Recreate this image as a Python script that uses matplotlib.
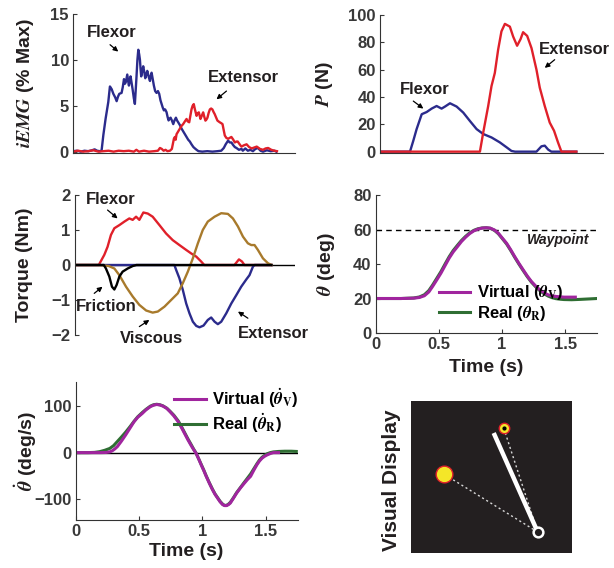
import numpy as np
import matplotlib
matplotlib.use('Agg')
import matplotlib.pyplot as plt

plt.rcParams['font.family'] = ['Liberation Sans', 'DejaVu Sans']
plt.rcParams['font.weight'] = 'bold'
plt.rcParams['axes.labelweight'] = 'bold'
plt.rcParams['mathtext.fontset'] = 'stix'

# ---- colours ----
C_FLEX = '#2b2b8c'
C_EXT = '#e0202a'
C_VISC = '#a87a2c'
C_VIRT = '#a0259e'
C_REAL = '#2f6e33'
C_TXT = '#231f20'
C_TICK = '#383838'

# ---- iEMG (% max) ----
t_emg_flex = [0.00, 0.03, 0.06, 0.09, 0.12, 0.15, 0.17, 0.19, 0.21, 0.225, 0.239, 0.257, 0.278, 0.291,
              0.305, 0.318, 0.333, 0.344, 0.355, 0.365, 0.383, 0.392, 0.402, 0.41, 0.417, 0.428, 0.436,
              0.441, 0.448, 0.454, 0.462, 0.470, 0.480, 0.488, 0.495, 0.501, 0.508, 0.515, 0.522, 0.528,
              0.533, 0.538, 0.546, 0.554, 0.562, 0.570, 0.578, 0.586, 0.596, 0.607, 0.614, 0.620, 0.629,
              0.638, 0.648, 0.659, 0.670, 0.680, 0.690, 0.699, 0.708, 0.717, 0.727, 0.738, 0.746, 0.754,
              0.762, 0.770, 0.780, 0.791, 0.801, 0.812, 0.821, 0.830, 0.843, 0.857, 0.870, 0.883, 0.896,
              0.909, 0.922, 0.935, 0.95, 0.962, 0.975, 0.99, 1.02, 1.06, 1.10, 1.14, 1.17, 1.19, 1.205,
              1.224, 1.237, 1.25, 1.265, 1.277, 1.29, 1.31, 1.33, 1.34, 1.36, 1.38, 1.40, 1.42, 1.44,
              1.46, 1.48, 1.50, 1.53, 1.56, 1.59, 1.605]
emg_flex = [0.05, 0.1, 0.0, 0.1, 0.05, 0.15, 0.25, 0.1, 0.05, 0.1, 1.8, 3.6, 5.4, 7.1,
            6.8, 6.3, 5.9, 5.5, 6.0, 6.3, 6.4, 7.0, 7.9, 7.4, 7.6, 8.4, 7.6,
            7.2, 7.8, 8.2, 7.5, 6.8, 5.8, 5.2, 6.8, 8.2, 10.0, 11.1, 10.6, 10.0,
            9.0, 8.2, 8.8, 9.3, 8.7, 8.0, 8.4, 8.8, 8.2, 7.7, 8.3, 8.6, 7.9,
            7.2, 6.6, 6.4, 6.6, 6.3, 5.6, 5.2, 4.8, 4.5, 4.6, 4.3, 3.8, 3.4,
            3.6, 3.7, 3.4, 3.0, 3.4, 3.7, 3.4, 3.2, 2.9, 2.5, 2.2, 1.9, 1.6,
            1.3, 1.1, 0.8, 0.5, 0.35, 0.2, 0.05, 0.0, 0.05, 0.0, 0.05, 0.1, 0.4, 0.8,
            1.2, 1.0, 1.0, 0.7, 0.5, 0.4, 0.2, 0.3, 0.1, 0.35, 0.1, 0.2, 0.05, 0.3,
            0.4, 0.1, 0.0, 0.15, 0.05, 0.1, 0.0]

t_emg_ext = [0.00, 0.04, 0.08, 0.12, 0.16, 0.20, 0.24, 0.28, 0.32, 0.36, 0.40, 0.44, 0.48, 0.50,
             0.52, 0.56, 0.60, 0.64, 0.67, 0.686, 0.70, 0.715, 0.73, 0.745, 0.765, 0.78, 0.796, 0.804,
             0.81, 0.817, 0.83, 0.843, 0.856, 0.869, 0.883, 0.896, 0.905, 0.917, 0.926, 0.935, 0.944,
             0.953, 0.962, 0.975, 0.985, 0.993, 1.006, 1.016, 1.027, 1.036, 1.045, 1.053, 1.061, 1.07,
             1.08, 1.09, 1.10, 1.11, 1.118, 1.13, 1.14, 1.158, 1.17, 1.18, 1.19, 1.198, 1.21, 1.224,
             1.237, 1.25, 1.265, 1.277, 1.29, 1.30, 1.315, 1.329, 1.35, 1.37, 1.39, 1.41, 1.43, 1.45,
             1.475, 1.50, 1.52, 1.54, 1.565, 1.59, 1.61]
emg_ext = [0.0, 0.1, 0.0, 0.05, 0.15, 0.0, 0.05, 0.1, 0.0, 0.1, 0.05, 0.1, 0.0, 0.2,
           0.0, 0.1, 0.0, 0.05, 0.1, 0.4, 0.3, 0.1, 0.2, 0.05, 0.1, 0.3, 1.4, 1.6,
           1.3, 1.9, 2.2, 2.5, 2.8, 3.0, 3.3, 3.56, 3.3, 3.2, 3.9, 4.6, 5.0,
           5.18, 4.6, 3.9, 4.2, 4.28, 3.56, 3.9, 4.28, 3.8, 3.38, 3.5, 3.7, 4.2,
           4.6, 4.7, 4.6, 4.3, 4.1, 3.7, 3.38, 3.2, 3.1, 3.0, 2.3, 1.76, 1.5, 1.4,
           1.5, 1.6, 1.3, 1.0, 1.1, 1.1, 0.8, 0.55, 0.7, 0.8, 0.5, 0.35, 0.45, 0.55,
           0.3, 0.2, 0.35, 0.4, 0.2, 0.1, 0.05]

# ---- muscle force P (N) ----
t_p_flex = [0.0, 0.235, 0.261, 0.287, 0.327, 0.366, 0.405, 0.444, 0.483, 0.51, 0.549, 0.601, 0.653,
            0.705, 0.758, 0.810, 0.875, 0.94, 0.993, 1.032, 1.06, 1.228, 1.267, 1.293, 1.32, 1.345, 1.541]
p_flex = [0, 0, 8, 16.5, 27.4, 29, 31.5, 33.4, 31.5, 33, 35.4, 33, 28.6,
          22.5, 16.5, 12.9, 10.4, 6.8, 3.2, 0.5, 0, 0, 3.9, 4.4, 1.5, 0, 0]
t_p_ext = [0.0, 0.784, 0.810, 0.849, 0.875, 0.901, 0.927, 0.953, 0.98, 1.019, 1.045, 1.076, 1.103,
           1.123, 1.155, 1.189, 1.228, 1.254, 1.293, 1.332, 1.366, 1.397, 1.424, 1.541]
p_ext = [0, 0, 14, 33.4, 48, 57.6, 74.6, 88, 93.5, 91.5, 84.2, 77.5, 82.3,
         87.4, 84.7, 75.8, 60, 46.8, 33.4, 21.3, 15.3, 6.8, 0, 0]

# ---- torques (Nm) ----
t_tq_flex = [0.0, 0.19, 0.234, 0.26, 0.287, 0.314, 0.354, 0.394, 0.433, 0.46, 0.487, 0.513, 0.545,
             0.58, 0.619, 0.673, 0.726, 0.779, 0.832, 0.886, 0.926, 0.966, 1.005, 1.03, 1.27, 1.306,
             1.33, 1.35, 1.565]
tq_flex = [0, 0, 0.29, 0.52, 0.86, 1.05, 1.14, 1.24, 1.33, 1.29, 1.38, 1.29, 1.5,
           1.47, 1.38, 1.14, 0.9, 0.71, 0.57, 0.43, 0.33, 0.24, 0.1, 0, 0, 0.16,
           0.1, 0, 0]
t_tq_visc = [0.0, 0.19, 0.27, 0.314, 0.354, 0.407, 0.46, 0.513, 0.567, 0.619, 0.66, 0.713, 0.766,
             0.819, 0.859, 0.899, 0.939, 0.979, 1.018, 1.058, 1.112, 1.165, 1.218, 1.258, 1.298,
             1.338, 1.377, 1.404, 1.43, 1.457, 1.497, 1.537, 1.565]
tq_visc = [0, 0, -0.03, -0.1, -0.29, -0.62, -0.9, -1.14, -1.3, -1.36, -1.33, -1.19, -1.0,
           -0.81, -0.52, -0.19, 0.19, 0.62, 1.0, 1.24, 1.38, 1.48, 1.46, 1.33, 1.1,
           0.81, 0.62, 0.57, 0.57, 0.43, 0.19, 0.05, 0]
t_tq_fric = [0.0, 0.23, 0.247, 0.274, 0.295, 0.314, 0.332, 0.354, 0.38, 0.42, 0.46, 0.49, 1.565]
tq_fric = [0, 0, -0.1, -0.33, -0.62, -0.7, -0.57, -0.33, -0.19, -0.1, -0.03, 0, 0]
t_tq_ext = [0.0, 0.792, 0.806, 0.832, 0.859, 0.886, 0.912, 0.939, 0.966, 0.992, 1.024, 1.058, 1.085,
            1.112, 1.138, 1.165, 1.205, 1.245, 1.285, 1.324, 1.365, 1.39, 1.417, 1.43, 1.565]
tq_ext = [0, 0, -0.14, -0.38, -0.71, -1.1, -1.38, -1.62, -1.74, -1.78, -1.73, -1.57, -1.5,
          -1.62, -1.69, -1.62, -1.38, -1.1, -0.86, -0.62, -0.41, -0.29, -0.05, 0, 0]

# ---- joint angle (deg) ----
t_th_v = [0, 0.1, 0.2, 0.3, 0.346, 0.385, 0.42, 0.45, 0.483, 0.516, 0.548, 0.581, 0.613, 0.646, 0.678,
          0.711, 0.743, 0.776, 0.808, 0.841, 0.875, 0.906, 0.94, 0.971, 1.0, 1.036, 1.068, 1.10, 1.133,
          1.167, 1.2, 1.232, 1.265, 1.297, 1.33, 1.362, 1.395, 1.427, 1.46, 1.49, 1.58]
th_v = [20.0, 20.0, 20.0, 20.2, 20.6, 21.6, 23.8, 27.0, 30.8, 34.7, 39.0, 43.4, 47.0, 50.0, 53.0,
        55.5, 57.6, 59.2, 60.2, 60.8, 61.0, 60.8, 59.7, 57.8, 55.2, 52.0, 48.3, 44.3, 40.4,
        36.6, 33.0, 29.9, 27.3, 25.1, 23.5, 22.2, 21.6, 21.2, 21.0, 20.8, 20.8]
t_th_r = [0, 0.1, 0.2, 0.3, 0.346, 0.385, 0.42, 0.45, 0.483, 0.516, 0.548, 0.581, 0.613, 0.646, 0.678,
          0.711, 0.743, 0.776, 0.808, 0.841, 0.875, 0.906, 0.94, 0.971, 1.0, 1.036, 1.068, 1.10, 1.133,
          1.167, 1.2, 1.232, 1.265, 1.297, 1.33, 1.362, 1.395, 1.427, 1.46, 1.49, 1.55, 1.62, 1.70, 1.75]
th_r = [20.0, 20.0, 20.0, 20.3, 20.9, 22.2, 24.6, 27.8, 31.7, 35.6, 39.9, 44.2, 47.8, 50.8, 53.6,
        56.0, 58.0, 59.5, 60.4, 60.9, 61.0, 60.7, 59.5, 57.5, 54.9, 51.6, 47.9, 43.9, 40.0,
        36.2, 32.6, 29.5, 26.9, 24.7, 22.9, 21.5, 20.5, 19.9, 19.6, 19.4, 19.3, 19.5, 19.8, 20.0]
waypoint = 60

# ---- joint velocity (deg/s) ----
t_vel_v = [0, 0.1, 0.2, 0.24, 0.27, 0.29, 0.31, 0.33, 0.36, 0.395, 0.43, 0.46, 0.49, 0.525, 0.555, 0.59,
           0.615, 0.64, 0.665, 0.69, 0.72, 0.745, 0.775, 0.81, 0.835, 0.86, 0.885, 0.91, 0.93, 0.95,
           0.97, 0.99, 1.01, 1.03, 1.055, 1.08, 1.10, 1.12, 1.14, 1.16, 1.175, 1.19, 1.205, 1.22,
           1.245, 1.27, 1.30, 1.33, 1.355, 1.38, 1.405, 1.43, 1.45, 1.47, 1.49, 1.51, 1.535, 1.56, 1.6]
vel_v = [0, 0, 0, 0.3, 1.5, 4, 8, 13, 24, 38, 53, 66, 76, 84, 92, 99,
         102, 103.6, 102.5, 100, 95, 88, 79, 66, 54, 41, 28, 16, 7, -1.4,
         -13, -26, -38, -51, -66, -80, -90, -98, -106, -112, -114, -114, -112, -108.6,
         -98, -87, -76, -66, -58, -51, -38, -26, -18, -12, -8, -5, -2, 0, 0]
t_vel_r = [0, 0.1, 0.15, 0.19, 0.23, 0.27, 0.30, 0.33, 0.36, 0.395, 0.43, 0.46, 0.49, 0.525, 0.555, 0.59,
           0.615, 0.64, 0.665, 0.69, 0.72, 0.745, 0.775, 0.81, 0.835, 0.86, 0.885, 0.91, 0.93, 0.95,
           0.97, 0.99, 1.01, 1.03, 1.055, 1.08, 1.10, 1.12, 1.14, 1.16, 1.175, 1.19, 1.205, 1.22,
           1.245, 1.27, 1.30, 1.33, 1.355, 1.38, 1.405, 1.43, 1.45, 1.47, 1.49, 1.51, 1.535, 1.56, 1.6,
           1.65, 1.70, 1.74]
vel_r = [0, 0, 0.5, 2, 5, 9, 15, 24, 33, 44, 56, 67, 77, 86, 93, 100,
         103, 104, 103, 100.5, 95.5, 89, 80.5, 68, 56, 43, 30, 18, 8, -1,
         -13, -25, -37, -50, -65, -79, -89, -97, -105, -111, -113.5, -113.5, -111, -107,
         -97, -86, -75, -64, -55, -46, -35, -24, -16, -10, -6, -2.5, 0, 1.5, 2.5,
         3, 3, 2.5]

# ---- visual display scene (screen units) ----
pivot_xy = (127, 21)
rod_tip_xy = (83, 120)
target_xy = (33, 79)
cursor_xy = (93, 125)

fig = plt.figure(figsize=(6.14, 5.68), dpi=100)

TICK_FS = 12
LABEL_FS = 14
NOTE_FS = 12


def style(ax, yticks, ylabels=None, xticks=None, xlabels=None, bottom=True):
    for s in ['top', 'right']:
        ax.spines[s].set_visible(False)
    ax.spines['bottom'].set_visible(bottom)
    ax.spines['left'].set_color('#333333')
    ax.spines['bottom'].set_color('#333333')
    ax.tick_params(direction='in', length=3, colors=C_TICK, pad=3)
    if ylabels is None:
        ylabels = [str(v) for v in yticks]
    ax.set_yticks(yticks, ylabels, fontsize=TICK_FS, fontweight='bold')
    if xticks is None:
        ax.set_xticks([])
    else:
        ax.set_xticks(xticks, xlabels, fontsize=TICK_FS, fontweight='bold')


def note(ax, txt, xy_txt, xy_tail, xy_head, ha='center'):
    ax.text(xy_txt[0], xy_txt[1], txt, ha=ha, va='center', fontsize=NOTE_FS,
            fontweight='bold', color=C_TXT, clip_on=False)
    ax.annotate('', xy=xy_head, xytext=xy_tail,
                arrowprops=dict(arrowstyle='-|>', color='black', lw=0.9,
                                mutation_scale=7, shrinkA=0, shrinkB=0),
                annotation_clip=False)


TIME_TICKS = [0, 0.5, 1, 1.5]
TIME_LABELS = ['0', '0.5', '1', '1.5']

# panel 1: iEMG
ax1 = fig.add_axes([0.119, 0.7306, 0.361, 0.2448])
ax1.plot(t_emg_flex, emg_flex, color=C_FLEX, lw=1.7)
ax1.plot(t_emg_ext, emg_ext, color=C_EXT, lw=1.7)
ax1.set_xlim(0, 1.75)
ax1.set_ylim(-0.15, 15)
style(ax1, [0, 5, 10, 15])
ax1.set_ylabel(r'$\mathbfit{iEMG}$ (% Max)', fontsize=LABEL_FS, color=C_TXT)
ax1.yaxis.set_label_coords(-0.165, 0.5)
note(ax1, 'Flexor', (0.307, 13.0), (0.292, 11.65), (0.357, 10.9))
note(ax1, 'Extensor', (1.342, 8.06), (1.211, 6.6), (1.132, 5.7))

# panel 2: force
ax2 = fig.add_axes([0.619, 0.7306, 0.363, 0.2430])
ax2.plot(t_p_flex, p_flex, color=C_FLEX, lw=1.7)
ax2.plot(t_p_ext, p_ext, color=C_EXT, lw=1.7)
ax2.set_xlim(0, 1.75)
ax2.set_ylim(-1, 100)
style(ax2, [0, 20, 40, 60, 80, 100])
ax2.set_ylabel(r'$\mathbfit{P}$ (N)', fontsize=LABEL_FS, color=C_TXT)
ax2.yaxis.set_label_coords(-0.2, 0.5)
note(ax2, 'Flexor', (0.353, 45.5), (0.261, 37), (0.34, 31.5))
note(ax2, 'Extensor', (1.525, 74.6), (1.371, 67.3), (1.293, 61.3))

# panel 3: torques
ax3 = fig.add_axes([0.122, 0.4102, 0.358, 0.2465])
ax3.axhline(0, color='black', lw=1.0)
ax3.plot(t_tq_flex, tq_flex, color=C_EXT, lw=1.7)
ax3.plot(t_tq_ext, tq_ext, color=C_FLEX, lw=1.7)
ax3.plot(t_tq_visc, tq_visc, color=C_VISC, lw=1.7)
ax3.plot(t_tq_fric, tq_fric, color='black', lw=1.7)
ax3.set_xlim(0, 1.75)
ax3.set_ylim(-2, 2)
style(ax3, [-2, -1, 0, 1, 2], ['\u22122', '\u22121', '0', '1', '2'], bottom=False)
ax3.set_ylabel('Torque (Nm)', fontsize=LABEL_FS, color=C_TXT)
ax3.yaxis.set_label_coords(-0.19, 0.5)
note(ax3, 'Flexor', (0.287, 1.86), (0.26, 1.57), (0.34, 1.33))
note(ax3, 'Friction', (0.247, -1.19), (0.154, -0.81), (0.22, -0.62))
note(ax3, 'Viscous', (0.606, -2.1), (0.513, -1.76), (0.593, -1.57))
note(ax3, 'Extensor', (1.30, -1.95), (1.377, -1.52), (1.298, -1.33), ha='left')

# panel 4: angle
ax4 = fig.add_axes([0.612, 0.4137, 0.360, 0.2430])
ax4.axhline(waypoint, color='black', lw=1.0, ls=(0, (4, 3)))
ax4.plot(t_th_r, th_r, color=C_REAL, lw=2.2, label=r'Real ($\theta_{\mathrm{R}}$)')
ax4.plot(t_th_v, th_v, color=C_VIRT, lw=2.2, label=r'Virtual ($\theta_{\mathrm{V}}$)')
ax4.set_xlim(0, 1.75)
ax4.set_ylim(0, 80)
style(ax4, [0, 20, 40, 60, 80], xticks=TIME_TICKS, xlabels=TIME_LABELS)
ax4.set_ylabel(r'$\theta$ (deg)', fontsize=LABEL_FS, color=C_TXT)
ax4.yaxis.set_label_coords(-0.175, 0.5)
ax4.set_xlabel('Time (s)', fontsize=LABEL_FS, color=C_TXT)
ax4.xaxis.set_label_coords(0.5, -0.19)
ax4.text(1.69, 54, 'Waypoint', ha='right', va='center', fontsize=10,
         fontweight='bold', style='italic', color=C_TXT)
h, l = ax4.get_legend_handles_labels()
ax4.legend(h[::-1], l[::-1], loc='lower left', bbox_to_anchor=(0.24, 0.0), frameon=False,
           handlelength=1.9, handletextpad=0.4, labelspacing=0.1,
           borderpad=0.1, prop={'weight': 'bold', 'size': NOTE_FS})

# panel 5: velocity
ax5 = fig.add_axes([0.123, 0.0845, 0.3616, 0.243])
ax5.axhline(0, color='black', lw=1.0)
ax5.plot(t_vel_r, vel_r, color=C_REAL, lw=2.2, label=r'Real ($\dot{\theta}_{\mathrm{R}}$)')
ax5.plot(t_vel_v, vel_v, color=C_VIRT, lw=2.2, label=r'Virtual ($\dot{\theta}_{\mathrm{V}}$)')
ax5.set_xlim(0, 1.75)
ax5.set_ylim(-145, 152)
style(ax5, [-100, 0, 100], ['\u2212100', '0', '100'], xticks=TIME_TICKS, xlabels=TIME_LABELS)
ax5.set_ylabel(r'$\dot{\theta}$ (deg/s)', fontsize=LABEL_FS, color=C_TXT)
ax5.yaxis.set_label_coords(-0.165, 0.5)
ax5.set_xlabel('Time (s)', fontsize=LABEL_FS, color=C_TXT)
ax5.xaxis.set_label_coords(0.5, -0.17)
h, l = ax5.get_legend_handles_labels()
ax5.legend(h[::-1], l[::-1], loc='upper right', bbox_to_anchor=(1.05, 1.04), frameon=False,
           handlelength=1.9, handletextpad=0.4, labelspacing=0.1,
           borderpad=0.1, prop={'weight': 'bold', 'size': NOTE_FS})

# panel 6: visual display
ax6 = fig.add_axes([0.669, 0.0264, 0.262, 0.2676])
ax6.set_facecolor('#231f20')
ax6.set_xlim(0, 161)
ax6.set_ylim(0, 152)
ax6.set_xticks([])
ax6.set_yticks([])
for s in ax6.spines.values():
    s.set_visible(False)
ax6.plot([pivot_xy[0], target_xy[0]], [pivot_xy[1], target_xy[1]], color='#d8d8d8', lw=1.0, ls=(0, (1.5, 2)))
ax6.plot([pivot_xy[0], cursor_xy[0]], [pivot_xy[1], cursor_xy[1]], color='#d8d8d8', lw=1.0, ls=(0, (1.5, 2)))
ax6.plot([pivot_xy[0], rod_tip_xy[0]], [pivot_xy[1], rod_tip_xy[1]], color='white', lw=3.2, solid_capstyle='butt')
ax6.plot(*pivot_xy, 'o', ms=7, mfc='#231f20', mec='white', mew=1.8)
ax6.plot(*target_xy, 'o', ms=12, mfc='#f4e628', mec='#e0202a', mew=1.0)
ax6.plot(*cursor_xy, 'o', ms=7.5, mfc='#f4e628', mec='#e0202a', mew=1.0)
ax6.plot(*cursor_xy, 'o', ms=2, mfc='black', mec='black')
fig.text(0.638, 0.155, 'Visual Display', rotation=90, ha='center', va='center',
         fontsize=15, fontweight='bold', color=C_TXT)

fig.savefig('out.png', dpi=100)
